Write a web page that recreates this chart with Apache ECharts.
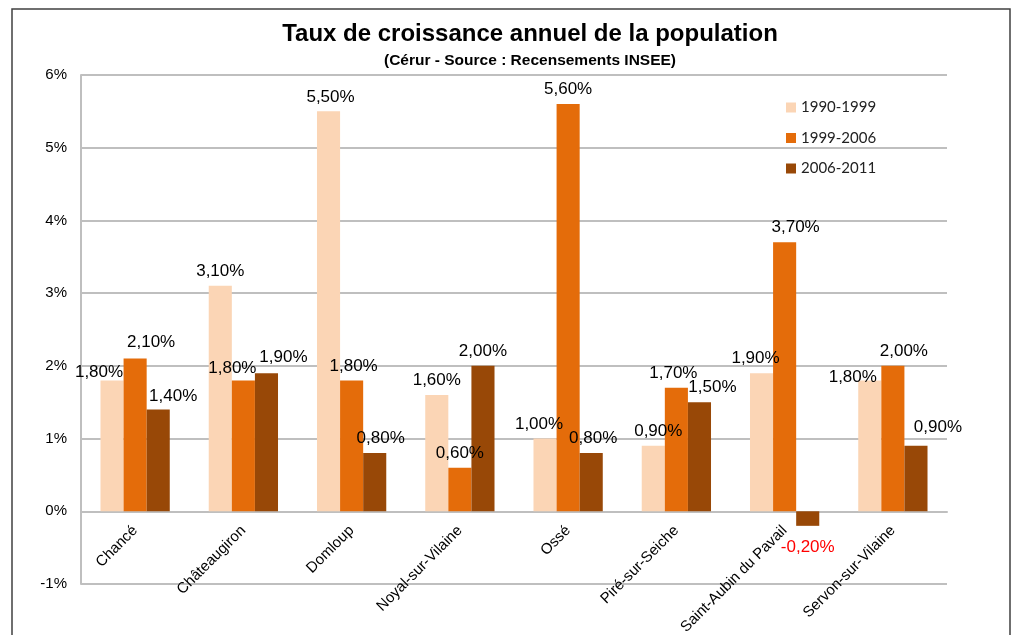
<!DOCTYPE html>
<html>
<head>
<meta charset="utf-8">
<script src="https://cdn.jsdelivr.net/npm/echarts@6/dist/echarts.min.js"></script>
<style>
html,body{margin:0;padding:0;background:#fff;}
#main{width:1018px;height:635px;}
</style>
</head>
<body>
<div id="main"></div>
<script>
var categories = ['Chancé', 'Châteaugiron', 'Domloup', 'Noyal-sur-Vilaine', 'Ossé', 'Piré-sur-Seiche', 'Saint-Aubin du Pavail', 'Servon-sur-Vilaine'];
var seriesNames = ['1990-1999', '1999-2006', '2006-2011'];
var values1990_1999 = [1.8, 3.1, 5.5, 1.6, 1.0, 0.9, 1.9, 1.8];
var values1999_2006 = [2.1, 1.8, 1.8, 0.6, 5.6, 1.7, 3.7, 2.0];
var values2006_2011 = [1.4, 1.9, 0.8, 2.0, 0.8, 1.5, -0.2, 0.9];
var yTicks = {min: -1, max: 6, interval: 1};

// styling: colours and the hand-placed data-label nudges seen in the original
var colors = ['#FBD5B5', '#E46C0A', '#984807'];
var labelNudges = [
  [[-13, 6], [0, 0], [2, 0], [0, 0], [-6, 0], [5, 0], [-6, 0], [-17, 11]],
  [[16, -2], [-11, 2], [2, 0], [0, 0], [0, 0], [-3, 0], [11, 0], [11, 0]],
  [[15, 1], [17, -1], [6, 0], [0, 0], [2, 0], [13, 0], [0, 4], [22, -4]]
];
var gridBox = {left: 81, right: 71, top: 75, bottom: 51};
var chartHeight = 635;

var allValues = [values1990_1999, values1999_2006, values2006_2011];

function fmt(v) { return v.toFixed(2).replace('.', ',') + '%'; }

var series = allValues.map(function (vals, si) {
  return {
    name: seriesNames[si],
    type: 'bar',
    barGap: '0%',
    barCategoryGap: '36%',
    itemStyle: {color: colors[si]},
    data: vals.map(function (v, i) {
      var d = {value: v, label: {offset: labelNudges[si][i]}};
      if (v < 0) {
        d.label.position = 'bottom';
        d.label.color = '#FF0000';
        d.label.distance = 9;
      }
      return d;
    }),
    label: {
      show: true,
      position: 'top',
      distance: 6,
      fontFamily: 'Liberation Sans, Arial, sans-serif',
      fontSize: 17,
      color: '#000',
      formatter: function (p) { return fmt(p.value); }
    }
  };
});

// move the category axis up to the zero line of the value axis
var plotH = chartHeight - gridBox.top - gridBox.bottom;
var zeroOffset = -plotH * (0 - yTicks.min) / (yTicks.max - yTicks.min);

var chart = echarts.init(document.getElementById('main'));
chart.setOption({
  animation: false,
  backgroundColor: '#fff',
  color: colors,
  title: [{
    text: 'Taux de croissance annuel de la population',
    left: 525, top: 17, textAlign: 'center',
    textStyle: {fontFamily: 'Liberation Sans, Arial, sans-serif', fontWeight: 'bold', fontSize: 24, color: '#000'}
  }, {
    text: '(Cérur - Source : Recensements INSEE)',
    left: 525, top: 48, textAlign: 'center',
    textStyle: {fontFamily: 'Liberation Sans, Arial, sans-serif', fontWeight: 'bold', fontSize: 15.5, color: '#000'}
  }],
  legend: {
    orient: 'vertical',
    left: 781, top: 95,
    itemWidth: 10, itemHeight: 10, itemGap: 15.5,
    icon: 'rect',
    textStyle: {fontFamily: 'Lato, Open Sans, sans-serif', fontSize: 15, color: '#222'},
    data: seriesNames
  },
  grid: {left: gridBox.left, right: gridBox.right, top: gridBox.top, bottom: gridBox.bottom, containLabel: false, outerBoundsMode: 'none'},
  xAxis: {
    type: 'category',
    data: categories,
    offset: zeroOffset,
    axisLine: {show: true, onZero: false, lineStyle: {color: '#BFBFBF', width: 2}},
    axisTick: {show: false},
    axisLabel: {
      rotate: 45, margin: 17, interval: 0,
      fontFamily: 'Liberation Sans, Arial, sans-serif', fontSize: 15, color: '#000'
    },
    splitLine: {show: false}
  },
  yAxis: {
    type: 'value',
    min: yTicks.min, max: yTicks.max, interval: yTicks.interval,
    axisLine: {show: true, lineStyle: {color: '#BFBFBF', width: 2}},
    axisTick: {show: false},
    axisLabel: {
      formatter: '{value}%', margin: 14,
      fontFamily: 'Liberation Sans, Arial, sans-serif', fontSize: 15, color: '#000'
    },
    splitLine: {show: true, lineStyle: {color: '#BFBFBF', width: 2}}
  },
  graphic: [{
    type: 'rect',
    shape: {x: 12, y: 9, width: 998, height: 640},
    style: {fill: null, stroke: '#404040', lineWidth: 1.5},
    silent: true
  }],
  series: series
});
</script>
</body>
</html>
